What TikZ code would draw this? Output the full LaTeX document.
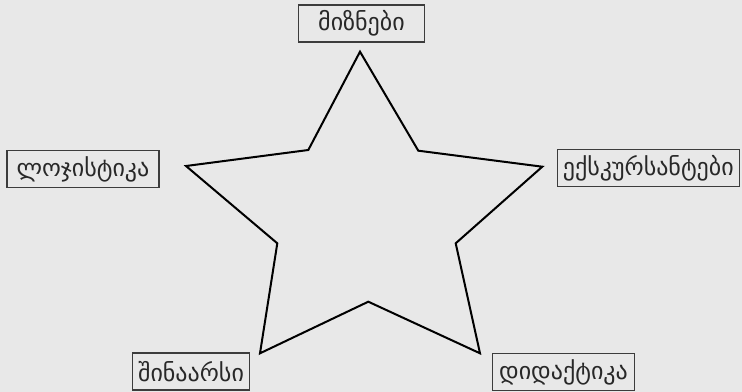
\documentclass[tikz,border=0pt]{standalone}
\usepackage{fontspec}
\newfontfamily\geofont{DejaVu Sans}
\usetikzlibrary{positioning}
\definecolor{bggray}{RGB}{232,232,232}
\definecolor{boxgray}{RGB}{60,60,60}
\definecolor{textgray}{RGB}{40,40,40}

\begin{document}
\begin{tikzpicture}[x=0.75pt, y=-0.75pt,
    tag/.style={rectangle, draw=boxgray, fill=bggray, line width=0.8pt,
                minimum height=27.75pt, inner xsep=4pt,
                font=\geofont\fontsize{18pt}{20pt}\selectfont, text=textgray},
    starline/.style={line width=1.5pt, black, line join=miter}]
    \fill[bggray] (0,0) rectangle (742,392);
    \useasboundingbox (0,0) rectangle (742,392);
    % the star
    \draw[starline] (360,51.7) -- (418.3,150.7) -- (542.3,166.7) -- (455.7,243.3)
        -- (480,353.3) -- (368.3,301.7) -- (260,353.3) -- (277.3,243.3)
        -- (186,166) -- (308.3,150) -- cycle;
    % labels round it
    \node[tag, minimum width=95pt] (goals) at (361.5,23.5) {მიზნები};
    \node[tag, minimum width=114pt] (logistics) at (83,169) {ლოჯისტიკა};
    \node[tag, anchor=west] (tourists) at (557,168) {ექსკურსანტები};
    \node[tag, minimum width=84pt] (content) at (191,371.5) {შინაარსი};
    \node[tag, minimum width=106pt] (didactics) at (563.5,372) {დიდაქტიკა};
\end{tikzpicture}
\end{document}
